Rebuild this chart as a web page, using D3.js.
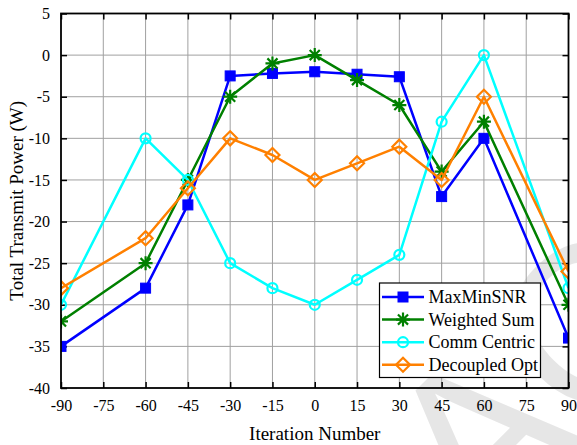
<!DOCTYPE html>
<html>
<head>
<meta charset="utf-8">
<script src="https://cdn.jsdelivr.net/npm/d3@7"></script>
<style>
  html, body { margin: 0; padding: 0; background: #fff; }
  svg { display: block; }
</style>
</head>
<body>
<svg id="chart" width="577" height="445"></svg>
<script>
// Angles (iteration index) and transmit power for each scheme
const iterations = [-90, -60, -45, -30, -15, 0, 15, 30, 45, 60, 90];
const maxMinSNR   = [-35, -28, -18, -2.5, -2.2, -2, -2.3, -2.6, -17, -10, -34];
const weightedSum = [-32, -25, -15, -5, -1, 0, -3, -6, -14, -8, -30];
const commCentric = [-30, -10, -15, -25, -28, -30, -27, -24, -8, 0, -28];
const decoupled   = [-28, -22, -16, -10, -12, -15, -13, -11, -15, -5, -26];

const seriesNames = ["MaxMinSNR", "Weighted Sum", "Comm Centric", "Decoupled Opt"];
const seriesColors = ["#0000ff", "#008000", "#00ffff", "#ff8000"];
const seriesMarkers = ["square", "star", "circle", "diamond"];
const seriesValues = [maxMinSNR, weightedSum, commCentric, decoupled];

const xTicks = [-90, -75, -60, -45, -30, -15, 0, 15, 30, 45, 60, 75, 90];
const yTicks = [-40, -35, -30, -25, -20, -15, -10, -5, 0, 5];

const SERIF = "'Liberation Serif'";
const svg = d3.select("#chart");
const margin = { left: 61, top: 13.5, right: 577 - 568.5, bottom: 445 - 388 };
const W = 577 - margin.left - margin.right;
const H = 445 - margin.top - margin.bottom;

// faint diagonal watermark behind everything
svg.append("text")
  .attr("transform", "translate(480,545) rotate(-45)")
  .style("font-family", "'Liberation Sans'").style("font-size", "225px")
  .attr("fill", "#e6e6e6")
  .text("AC");

const g = svg.append("g").attr("transform", `translate(${margin.left},${margin.top})`);

const x = d3.scaleLinear().domain([-90, 90]).range([0, W]);
const y = d3.scaleLinear().domain([-40, 5]).range([H, 0]);

// grid
g.append("g").selectAll("line").data(xTicks.slice(1, -1)).join("line")
  .attr("x1", d => x(d)).attr("x2", d => x(d)).attr("y1", 0).attr("y2", H)
  .attr("stroke", "#a0a0a0").attr("stroke-width", 1);
g.append("g").selectAll("line").data(yTicks.slice(1, -1)).join("line")
  .attr("y1", d => y(d)).attr("y2", d => y(d)).attr("x1", 0).attr("x2", W)
  .attr("stroke", "#a0a0a0").attr("stroke-width", 1);

// axes with inward ticks on all four sides
const tickLen = 6;
const fmt = d => String(d);
const xAxis = d3.axisBottom(x).tickValues(xTicks).tickSize(-tickLen).tickPadding(12).tickFormat(fmt);
const yAxis = d3.axisLeft(y).tickValues(yTicks).tickSize(-tickLen).tickPadding(11).tickFormat(fmt);
const xTop = d3.axisTop(x).tickValues(xTicks).tickSize(-tickLen).tickFormat("");
const yRight = d3.axisRight(y).tickValues(yTicks).tickSize(-tickLen).tickFormat("");

function styleAxis(sel) {
  sel.attr("font-family", null);
  sel.select(".domain").remove();
  sel.selectAll(".tick line").attr("stroke", "#000").attr("stroke-width", 1.5);
  sel.selectAll("text").attr("fill", "#000")
    .style("font-family", SERIF).style("font-size", "16px");
}
g.append("g").attr("transform", `translate(0,${H})`).call(xAxis).call(styleAxis);
g.append("g").call(yAxis).call(styleAxis);
g.append("g").call(xTop).call(styleAxis);
g.append("g").attr("transform", `translate(${W},0)`).call(yRight).call(styleAxis);

// clip for series
svg.append("defs").append("clipPath").attr("id", "plotClip")
  .append("rect").attr("x", 0).attr("y", 0).attr("width", W).attr("height", H);

const line = d3.line().x(d => x(d[0])).y(d => y(d[1]));

function drawMarker(sel, type, color) {
  if (type === "square") {
    sel.append("rect").attr("x", -5).attr("y", -5).attr("width", 10).attr("height", 10)
      .attr("fill", color).attr("stroke", color).attr("stroke-width", 1);
  } else if (type === "star") {
    const r = 7, d = r * 0.72;
    sel.append("path")
      .attr("d", `M${-r},0L${r},0M0,${-r}L0,${r}M${-d},${-d}L${d},${d}M${-d},${d}L${d},${-d}`)
      .attr("stroke", color).attr("stroke-width", 2.2).attr("fill", "none");
  } else if (type === "circle") {
    sel.append("circle").attr("r", 5).attr("fill", "none").attr("stroke", color).attr("stroke-width", 2.2);
  } else if (type === "diamond") {
    const r = 7;
    sel.append("path").attr("d", `M0,${-r}L${r},0L0,${r}L${-r},0Z`)
      .attr("fill", "none").attr("stroke", color).attr("stroke-width", 2.2);
  }
}

const plot = g.append("g").attr("clip-path", "url(#plotClip)");
seriesValues.forEach((vals, i) => {
  const pts = iterations.map((it, j) => [it, vals[j]]);
  const sg = plot.append("g");
  sg.append("path").datum(pts).attr("d", line)
    .attr("fill", "none").attr("stroke", seriesColors[i]).attr("stroke-width", 2.5)
    .attr("stroke-linejoin", "round");
  sg.selectAll("g.m").data(pts).join("g").attr("class", "m")
    .attr("transform", d => `translate(${x(d[0])},${y(d[1])})`)
    .each(function () { drawMarker(d3.select(this), seriesMarkers[i], seriesColors[i]); });
});

// frame
g.append("rect").attr("x", 0).attr("y", 0).attr("width", W).attr("height", H)
  .attr("fill", "none").attr("stroke", "#000").attr("stroke-width", 1.8);

// axis titles
svg.append("text").attr("x", margin.left + W / 2).attr("y", 440)
  .attr("text-anchor", "middle").style("font-family", SERIF).style("font-size", "19px")
  .text("Iteration Number");
svg.append("text").attr("transform", `translate(23,${margin.top + H / 2}) rotate(-90)`)
  .attr("text-anchor", "middle").style("font-family", SERIF).style("font-size", "19px")
  .text("Total Transmit Power (W)");

// legend
const lg = svg.append("g").attr("transform", "translate(379.5,283)");
lg.append("rect").attr("x", 0).attr("y", 0).attr("width", 161).attr("height", 94.5)
  .attr("fill", "#fff").attr("stroke", "#000").attr("stroke-width", 1.2);
seriesNames.forEach((name, i) => {
  const yy = 14 + i * 22.6;
  const row = lg.append("g").attr("transform", `translate(0,${yy})`);
  row.append("line").attr("x1", 2.5).attr("x2", 44.5).attr("y1", 0).attr("y2", 0)
    .attr("stroke", seriesColors[i]).attr("stroke-width", 2.5);
  drawMarker(row.append("g").attr("transform", "translate(23.5,0)"), seriesMarkers[i], seriesColors[i]);
  row.append("text").attr("x", 49).attr("y", 6)
    .style("font-family", SERIF).style("font-size", "18px").text(name);
});
</script>
</body>
</html>
